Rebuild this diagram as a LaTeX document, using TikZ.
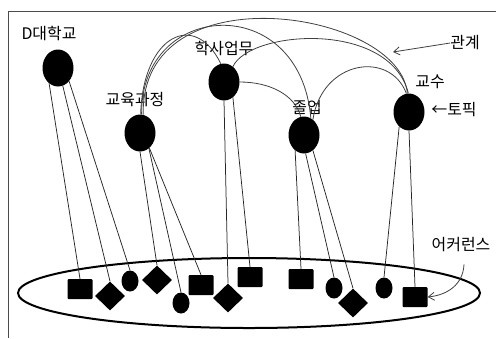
\documentclass[tikz,border=0pt]{standalone}
\usepackage{fontspec}
\setmainfont{Noto Sans CJK KR}
\usetikzlibrary{shapes.geometric,arrows.meta}
\begin{document}
\begin{tikzpicture}[x=1bp,y={(0,-1bp)},
  topic/.style={ellipse, fill=black, minimum width=31bp, minimum height=37bp, inner sep=0},
  lbl/.style={font=\fontsize{16}{18}\selectfont, inner sep=0},
  occsq/.style={rectangle, fill=black, rounded corners=1bp, minimum width=25bp, minimum height=20bp, inner sep=0},
  occdi/.style={diamond, fill=black, minimum width=30bp, minimum height=29bp, inner sep=0},
  occci/.style={ellipse, fill=black, minimum width=17bp, minimum height=21bp, inner sep=0},
  link/.style={draw=black!85, line width=0.75bp},
  relation/.style={draw=black!75, line width=0.8bp},
  frame/.style={draw=black!70, line width=1bp},
  pointer/.style={draw=black!75, line width=0.8bp, -{Straight Barb[length=6bp,width=8bp]}}]
\useasboundingbox (0,0) rectangle (496,338);
% frame
\coordinate (fA) at (8,338);
\coordinate (fB) at (8,11);
\coordinate (fC) at (496,11);
\draw[frame] (fA) -- (fB) -- (fC);
% occurrence pool
\node[draw, line width=2bp, ellipse, minimum width=462bp, minimum height=70bp, inner sep=0] (pool) at (249,293) {};
% topics
\node[topic] (d) at (58,68) {};
\node[topic] (edu) at (140,133) {};
\node[topic] (hak) at (224,82) {};
\node[topic] (jol) at (304,135) {};
\node[topic] (gyo) at (409,112) {};
% labels
\node[lbl] (ld) at (49,33) {D대학교};
\node[lbl] (ledu) at (135,100) {교육과정};
\node[lbl] (lhak) at (224,48) {학사업무};
\node[lbl] (ljol) at (307,107) {졸업};
\node[lbl] (lgyo) at (430,82) {교수};
\node[lbl] (ltopic) at (454,110) {←토픽};
\node[lbl] (lrel) at (465,43) {관계};
\node[lbl] (locc) at (461,245) {어커런스};
% occurrences
\node[occsq] (sq1) at (80,289) {};
\node[occdi] (di1) at (110,296) {};
\node[occci] (ci1) at (130,281) {};
\node[occdi] (di2) at (157,280) {};
\node[occci] (ci2) at (181,303) {};
\node[occsq] (sq2) at (201,285) {};
\node[occdi] (di3) at (228,298) {};
\node[occsq] (sq3) at (250,277) {};
\node[occsq] (sq4) at (301,279) {};
\node[occci] (ci3) at (334,288) {};
\node[occdi] (di4) at (353,303) {};
\node[occci] (ci4) at (384,288) {};
\node[occsq] (sq5) at (415,297) {};
% topic -> occurrence links
\draw[link] (d.240) -- (sq1.north);
\draw[link] (d.285) -- (di1.north);
\draw[link] (d.310) -- (ci1.north);
\draw[link] (edu.270) -- (di2.north);
\draw[link] (edu.300) -- (ci2.north);
\draw[link] (edu.302) -- (sq2.north);
\draw[link] (hak.south) -- (di3.north);
\draw[link] (hak.300) -- (sq3.north);
\draw[link] (jol.240) -- (sq4.north);
\draw[link] (jol.275) -- (ci3.north);
\draw[link] (jol.300) -- (di4.north);
\draw[link] (gyo.236) -- (ci4.north);
\draw[link] (gyo.south) -- (sq5.north);
% relations
\draw[relation] (edu.88) .. controls (143,35) and (195,10) .. (hak.100);
\draw[relation] (edu.85) .. controls (140,0) and (300,-10) .. (jol.68);
\draw[relation] (edu.80) .. controls (140,-30) and (400,10) .. (gyo.95);
\draw[relation] (hak.60) .. controls (250,30) and (390,20) .. (gyo.92);
\draw[relation] (jol.60) .. controls (322,60) and (390,50) .. (gyo.98);
\draw[relation] (hak.0) .. controls (270,82) and (295,95) .. (jol.100);
% annotation arrows
\coordinate (relTip) at (393,52);
\draw[pointer] (lrel.west) -- (relTip);
\draw[pointer] ([shift={(3,12)}]locc.south) .. controls (463,285) and (447,295) .. (sq5.east);
\end{tikzpicture}
\end{document}
